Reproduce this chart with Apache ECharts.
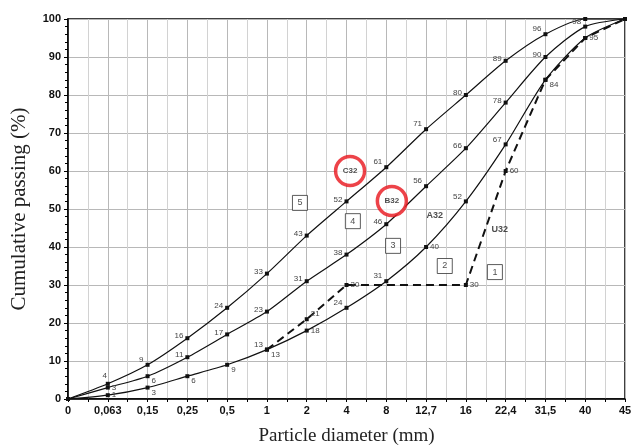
<!DOCTYPE html>
<html>
<head>
<meta charset="utf-8">
<script src="https://cdn.jsdelivr.net/npm/echarts@6/dist/echarts.min.js"></script>
<style>
  html, body { margin: 0; padding: 0; background: #fff; }
  #chart { width: 631px; height: 447px; }
</style>
</head>
<body>
<div id="chart"></div>
<script>
// sieve sizes (mm), drawn evenly spaced like the original grading chart
const sizes = ['0', '0,063', '0,15', '0,25', '0,5', '1', '2', '4', '8', '12,7', '16', '22,4', '31,5', '40', '45'];

// cumulative passing (%)
const passC32 = [0, 4, 9, 16, 24, 33, 43, 52, 61, 71, 80, 89, 96, 100, 100];
const passB32 = [0, 3, 6, 11, 17, 23, 31, 38, 46, 56, 66, 78, 90, 98, 100];
const passA32 = [0, 1, 3, 6, 9, 13, 18, 24, 31, 40, 52, 67, 84, 95, 100];
const passU32 = [null, null, null, null, null, 13, 21, 30, null, null, 30, 60, 84, 95, 100];

// zone boxes 1..5 and curve names  [x index, passing, text]
const zoneBoxes = [[10.73, 33.4, '1'], [9.47, 35, '2'], [8.17, 40.3, '3'], [7.16, 46.8, '4'], [5.83, 51.6, '5']];
const circledNames = [[7.09, 60, 'C32'], [8.14, 52.1, 'B32']];
const plainNames = [[9.22, 48.4, 'A32'], [10.85, 44.5, 'U32']];

// where each point value is written next to its point ('' = no label)
const posC32 = ['', 'T', 'LA', 'L', 'L', 'L', 'L', 'L', 'LA', 'LA', 'L', 'L', 'LA', '', ''];
const posB32 = ['', 'R', 'RB', 'L', 'L', 'L', 'L', 'L', 'L', 'LA', 'L', 'L', 'L', 'LA', ''];
const posA32 = ['', 'R', 'RB', 'RB', 'RB', 'RB', 'R', 'LA', 'LA', 'R', 'LA', 'LA', 'RB', 'R', ''];
const posU32 = ['', '', '', '', '', 'LA', 'RA', 'R', '', '', 'R', 'R', '', '', ''];

const posMap = {
  L: { position: 'left', offset: [0, -2] },
  LA: { position: 'left', offset: [0, -5] },
  R: { position: 'right', offset: [0, 0] },
  RB: { position: 'right', offset: [0, 5] },
  RA: { position: 'right', offset: [0, -5] },
  T: { position: 'top', offset: [-3, 0] }
}

function buildData (values, pos) {
  return values.map((v, i) => {
    const p = posMap[pos[i]]
    return {
      value: [i, v],
      label: p ? { show: true, position: p.position, offset: p.offset, distance: 2 } : { show: false }
    }
  })
}

function curve (name, values, pos, dashed) {
  return {
    name: name,
    type: 'line',
    smooth: dashed ? false : 0.25,
    connectNulls: true,
    symbol: 'rect',
    symbolSize: 4,
    itemStyle: { color: '#111' },
    lineStyle: {
      color: '#111',
      width: dashed ? 2 : 1.2,
      type: dashed ? [8, 5] : 'solid'
    },
    label: {
      color: '#444',
      fontSize: 8,
      fontFamily: 'Liberation Sans',
      formatter: (p) => p.value[1]
    },
    z: 3,
    data: buildData(values, pos)
  }
}

const chart = echarts.init(document.getElementById('chart'))

chart.setOption({
  animation: false,
  grid: {
    left: 68,
    right: 6,
    top: 19,
    bottom: 48,
    outerBoundsMode: 'none',
    show: true,
    borderColor: '#000',
    borderWidth: 1.5
  },
  xAxis: {
    type: 'value',
    min: 0,
    max: 14,
    interval: 1,
    name: 'Particle diameter (mm)',
    nameLocation: 'middle',
    nameGap: 28,
    nameTextStyle: { fontFamily: 'Liberation Serif', fontSize: 19, color: '#222' },
    axisLine: { lineStyle: { color: '#000', width: 1.5 } },
    axisTick: { show: true, length: 3, lineStyle: { color: '#000' } },
    minorTick: { show: true, splitNumber: 2, length: 3, lineStyle: { color: '#000' } },
    axisLabel: {
      color: '#111',
      fontWeight: 'bold',
      fontSize: 11,
      fontFamily: 'Liberation Sans',
      margin: 6,
      formatter: (v) => sizes[v]
    },
    splitLine: { show: true, lineStyle: { color: '#b8b8b8', width: 1 } },
    minorSplitLine: { show: true, lineStyle: { color: '#d2d2d2', width: 1 } }
  },
  yAxis: {
    type: 'value',
    min: 0,
    max: 100,
    interval: 10,
    name: 'Cumulative passing (%)',
    nameLocation: 'middle',
    nameGap: 38,
    nameTextStyle: { fontFamily: 'Liberation Serif', fontSize: 21, color: '#222' },
    axisLine: { show: true, lineStyle: { color: '#000', width: 1.5 } },
    axisTick: { show: true, length: 4, lineStyle: { color: '#000' } },
    minorTick: { show: true, splitNumber: 5, length: 3, lineStyle: { color: '#000' } },
    axisLabel: {
      color: '#111',
      fontWeight: 'bold',
      fontSize: 11,
      fontFamily: 'Liberation Sans',
      margin: 7
    },
    splitLine: { show: true, lineStyle: { color: '#b8b8b8', width: 1 } }
  },
  series: [
    curve('C32', passC32, posC32, false),
    curve('B32', passB32, posB32, false),
    curve('A32', passA32, posA32, false),
    curve('U32', passU32, posU32, true),
    {
      // numbered zone boxes
      type: 'scatter',
      symbol: 'rect',
      symbolSize: 15,
      itemStyle: { color: '#fff', borderColor: '#333', borderWidth: 1 },
      label: {
        show: true,
        position: 'inside',
        color: '#222',
        fontSize: 9,
        fontFamily: 'Liberation Sans',
        formatter: (p) => p.data[2]
      },
      z: 4,
      data: zoneBoxes
    },
    {
      // red circled grading names
      type: 'scatter',
      symbol: 'circle',
      symbolSize: 29,
      itemStyle: { color: '#fff', borderColor: '#e8141c', borderWidth: 3.5 },
      label: {
        show: true,
        position: 'inside',
        color: '#222',
        fontWeight: 'bold',
        fontSize: 8,
        fontFamily: 'Liberation Sans',
        formatter: (p) => p.data[2]
      },
      z: 4,
      data: circledNames
    },
    {
      type: 'scatter',
      symbolSize: 0,
      label: {
        show: true,
        position: 'inside',
        color: '#222',
        fontWeight: 'bold',
        fontSize: 9,
        fontFamily: 'Liberation Sans',
        formatter: (p) => p.data[2]
      },
      z: 4,
      data: plainNames
    }
  ]
})
</script>
</body>
</html>
